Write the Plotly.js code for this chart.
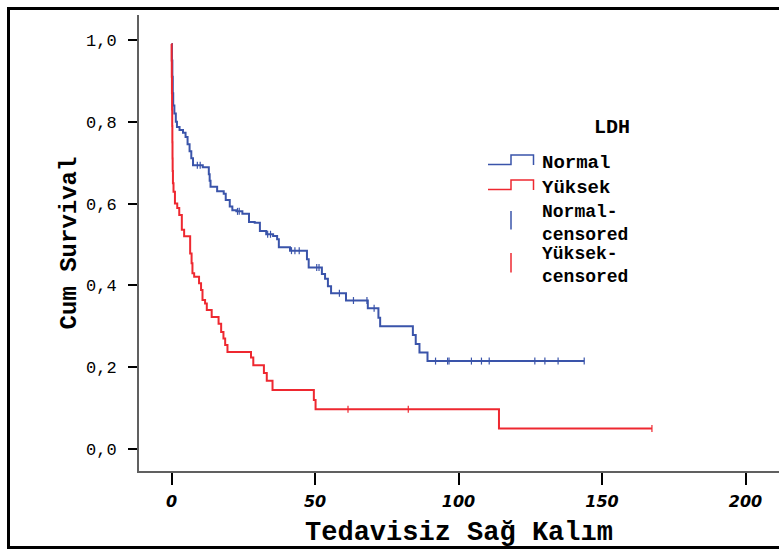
<!DOCTYPE html>
<html>
<head>
<meta charset="utf-8">
<script src="https://cdn.plot.ly/plotly-3.0.1.min.js"></script>
<style>
  html, body { margin: 0; padding: 0; background: #fff; overflow: hidden; }
  #chart { position: absolute; left: 0; top: 0; width: 779px; height: 549px; }
  #frame { position: absolute; left: 7px; top: 7px; width: 820px; height: 536px;
           border: 3px solid #000; pointer-events: none; }
</style>
</head>
<body>
<div id="chart"></div>
<div id="frame"></div>
<script>
// ---- data ----
const groups = ["Normal", "Yüksek"];
const legendTitle = "LDH";
const xTitle = "Tedavisiz Sağ Kalım";
const yTitle = "Cum Survival";
const xTickVals = [0, 50, 100, 150, 200];
const yTickVals = [0, 0.2, 0.4, 0.6, 0.8, 1.0];

// Normal group: step times and survival after each step
const normalTime = [0, 0.15, 0.3, 0.45, 0.6, 1.0, 1.5, 1.9, 2.8, 4.0, 4.9, 5.6, 6.3, 6.9, 7.5,
  10.9, 13.0, 13.3, 13.6, 15.9, 18.2, 18.9, 20.3, 21.2, 22.6, 24.7, 27.0, 29.0, 30.8, 33.0,
  35.4, 36.8, 37.4, 41.3, 47.2, 47.8, 52.4, 53.5, 54.5, 55.6, 60.8, 68.4, 72.1, 72.7, 84.1,
  85.1, 86.4, 89.2, 143.8];
const normalSurv = [0.99, 0.95, 0.91, 0.87, 0.84, 0.82, 0.80, 0.787, 0.780, 0.773, 0.763, 0.745, 0.728, 0.711, 0.694,
  0.689, 0.672, 0.656, 0.641, 0.630, 0.624, 0.609, 0.593, 0.584, 0.581, 0.575, 0.555, 0.553, 0.533, 0.525,
  0.521, 0.513, 0.493, 0.485, 0.464, 0.444, 0.428, 0.416, 0.398, 0.381, 0.363, 0.344, 0.321, 0.300, 0.279,
  0.257, 0.236, 0.215, 0.215];
const normalCensored = [9.0, 10.0, 23.0, 23.6, 33.5, 34.5, 41.8, 43.0, 44.5, 50.6, 51.4, 58.5, 63.4, 68.1,
  70.6, 92.0, 96.2, 96.7, 104.5, 108.0, 110.7, 126.6, 130.1, 134.7, 143.8];

// Yüksek group
const yuksekTime = [0, 0.05, 0.1, 0.15, 0.2, 0.25, 0.3, 0.35, 0.4, 0.5, 0.7, 1.2, 2.0, 2.7, 3.6,
  4.4, 6.5, 7.0, 7.3, 7.9, 9.6, 10.3, 10.8, 11.7, 12.3, 14.0, 16.4, 17.3, 18.1, 18.7,
  19.5, 27.7, 28.5, 32.2, 33.2, 35.2, 49.6, 50.2, 114.1, 167.4];
const yuksekSurv = [0.99, 0.95, 0.91, 0.87, 0.83, 0.79, 0.75, 0.71, 0.68, 0.65, 0.629, 0.600, 0.589, 0.572, 0.536,
  0.520, 0.478, 0.454, 0.430, 0.421, 0.405, 0.389, 0.364, 0.356, 0.340, 0.323, 0.306, 0.286, 0.270, 0.254,
  0.237, 0.224, 0.205, 0.186, 0.167, 0.144, 0.120, 0.097, 0.050, 0.050];
const yuksekCensored = [61.5, 82.5, 167.4];

// ---- styling ----
const blue = "rgb(58,84,170)";
const red = "rgb(238,40,48)";
const mono = "Liberation Mono, Courier New, monospace";

// survival value of a step curve at time t (censor marks sit on the curve)
function survAt(times, surv, t) {
  let s = surv[0];
  for (let i = 0; i < times.length; i++) { if (times[i] <= t) s = surv[i]; }
  return s;
}

const traces = [
  { x: normalTime, y: normalSurv, type: "scatter", mode: "lines", line: { shape: "hv", color: blue, width: 2 }, name: groups[0], hoverinfo: "skip" },
  { x: yuksekTime, y: yuksekSurv, type: "scatter", mode: "lines", line: { shape: "hv", color: red, width: 2 }, name: groups[1], hoverinfo: "skip" },
  { x: normalCensored, y: normalCensored.map(t => survAt(normalTime, normalSurv, t)), type: "scatter", mode: "markers",
    marker: { symbol: "line-ns", size: 5, line: { color: blue, width: 1.2 } }, name: groups[0] + "-censored", hoverinfo: "skip" },
  { x: yuksekCensored, y: yuksekCensored.map(t => survAt(yuksekTime, yuksekSurv, t)), type: "scatter", mode: "markers",
    marker: { symbol: "line-ns", size: 5, line: { color: red, width: 1.2 } }, name: groups[1] + "-censored", hoverinfo: "skip" }
];

// plot area in pixels: x 139..779, y 15..471
const L = 139, R = 779, T = 15, B = 471;
const px = v => (v - L) / (R - L);
const py = v => (B - v) / (B - T);

function stepPath(x1, x2, x3, yLow, yHigh, yEnd) {
  return "M" + px(x1) + "," + py(yLow) + " L" + px(x2) + "," + py(yLow) + " L" + px(x2) + "," + py(yHigh) +
         " L" + px(x3) + "," + py(yHigh) + " L" + px(x3) + "," + py(yEnd);
}

const shapes = [
  { type: "path", xref: "paper", yref: "paper", path: stepPath(488, 511, 533.5, 164.5, 155, 165), line: { color: blue, width: 1.5 } },
  { type: "path", xref: "paper", yref: "paper", path: stepPath(488, 511, 533.5, 189.5, 180, 190), line: { color: red, width: 1.5 } },
  { type: "line", xref: "paper", yref: "paper", x0: px(511), x1: px(511), y0: py(211), y1: py(229.5), line: { color: blue, width: 1.5 } },
  { type: "line", xref: "paper", yref: "paper", x0: px(511), x1: px(511), y0: py(253), y1: py(272.5), line: { color: red, width: 1.5 } }
];

const legFont = { family: mono, size: 18, color: "#000", weight: "bold" };
function legText(text, xPix, yPix, anchor, size) {
  return { text: text, xref: "paper", yref: "paper", x: px(xPix), y: py(yPix), xanchor: anchor || "left",
           yanchor: "middle", align: "left", showarrow: false,
           font: Object.assign({}, legFont, size ? { size: size } : {}) };
}
const annotations = [
  legText(legendTitle, 612, 127, "center", 20),
  legText(groups[0], 540, 163, "left", 19),
  legText(groups[1], 540, 187.5, "left", 19),
  legText(groups[0] + "-<br>censored", 540, 223.5),
  legText(groups[1] + "-<br>censored", 540, 265)
];

const layout = {
  width: 779, height: 549,
  margin: { l: L, r: 779 - R, t: T, b: 549 - B, pad: 0 },
  paper_bgcolor: "#fff", plot_bgcolor: "#fff",
  showlegend: false,
  separators: ",.",
  xaxis: {
    range: [(L - 171.5) / 2.87, (R - 171.5) / 2.87],
    tickvals: xTickVals, ticks: "outside", ticklen: 12, tickwidth: 2, tickcolor: "#000",
    showline: true, linecolor: "#606060", linewidth: 2, showgrid: false, zeroline: false,
    tickfont: { family: "DejaVu Sans, sans-serif", size: 16, color: "#000", weight: "bold", style: "italic" },
    ticklabelstandoff: 3,
    title: { text: xTitle, font: { family: mono, size: 27, color: "#000", weight: "bold" }, standoff: 11 },
    automargin: false
  },
  yaxis: {
    range: [(449 - B) / 409, (449 - T) / 409],
    tickvals: yTickVals, tickformat: ".1f", ticks: "outside", ticklen: 9, tickwidth: 2, tickcolor: "#000",
    showline: true, linecolor: "#606060", linewidth: 2, showgrid: false, zeroline: false,
    tickfont: { family: mono, size: 17, color: "#000" },
    ticklabelstandoff: 8,
    title: { text: yTitle, font: { family: mono, size: 24, color: "#000", weight: "bold" }, standoff: 3 },
    automargin: false
  },
  shapes: shapes,
  annotations: annotations
};

Plotly.newPlot("chart", traces, layout, { displayModeBar: false, staticPlot: true });
</script>
</body>
</html>
